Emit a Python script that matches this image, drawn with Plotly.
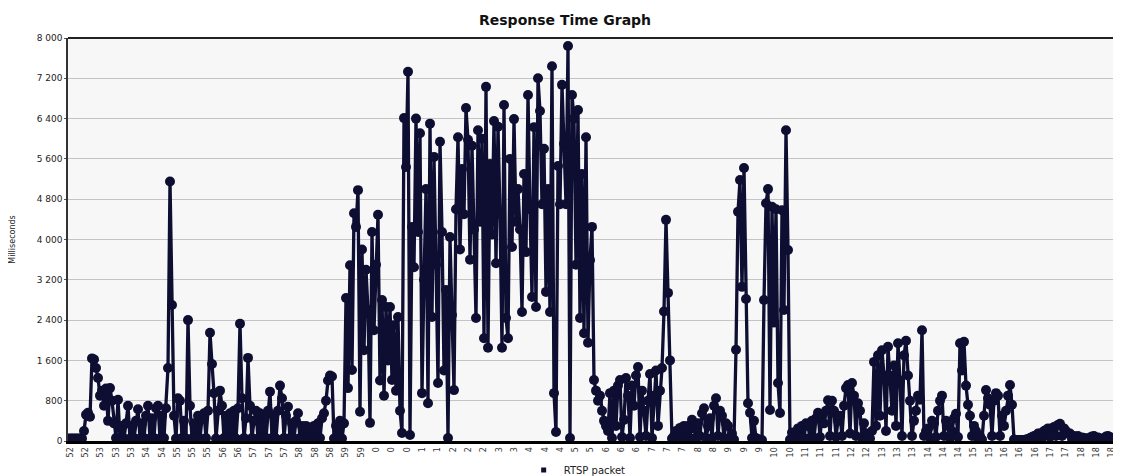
import plotly.graph_objects as go

# Response times (ms), read left to right off the reference, one sample every ~2 px
seg_52_59 = [
    50, 50, 50, 50, 50, 50, 50, 50, 200, 520,
    560, 480, 1640, 1620, 1450, 1250, 900, 1000, 700, 1040,
    400, 1050, 800, 350, 60, 820, 60, 300, 50, 350,
    700, 50, 300, 60, 400, 630, 50, 350, 60, 500,
    700, 50, 450, 60, 650, 700, 50, 500, 60, 650,
    1450, 5150, 2700, 500, 50, 850, 800, 60, 400, 50,
    2400, 700, 50, 350, 60, 500, 50, 450, 550, 60,
    600, 2150, 1530, 950, 50, 600, 1000, 700, 60, 500,
    50, 550, 60, 600, 50, 650, 2330, 850, 60, 450,
    1650, 700, 60, 400, 600, 50, 550, 60, 500, 60,
    600, 980, 60, 500, 50, 600, 1100, 850, 60, 500,
    680, 60, 350, 50, 400, 550, 60, 300, 50, 300,
    50, 250, 60, 300, 50, 350, 60, 450, 550, 800,
    1200, 1300, 1280, 50, 300, 60, 400, 50, 350, 2840,
]
seg_59_05 = [
    1050, 3490, 1410, 4520, 4250, 4980, 580, 3800, 1800, 3400,
    2600, 360, 4150, 2200, 3500, 4490, 1200, 2800, 900, 2660,
    1600, 2660, 1210, 2300, 1000, 2460, 600, 160, 6410, 5440,
    7330, 120, 4250, 3450, 6400, 4150, 6110, 950, 3200, 5000,
    750, 6300, 2460, 5640, 3500, 1150, 5940, 4150, 1400, 3000,
    60, 4050, 2500, 1010, 4600, 6030, 3800, 5400, 4500, 6610,
    5980, 3600, 5860, 4200, 2440, 6170, 4350, 6000, 2040, 7030,
    1850, 5500, 4100, 6350, 3530, 6240, 4500, 1850, 6670, 2440,
    2040, 5600, 3850, 6390, 4350, 5000, 4200, 2560, 5300, 3750,
    6870, 4600, 2860, 6230, 2660, 7200, 6550, 4700, 5800, 2960,
    5000, 2560, 7440, 950, 180, 5460, 4700, 7070, 5900, 4700,
    7840, 60, 6870, 6400, 3500, 6570, 2440, 5300, 2140, 6030,
    1950, 3590, 4250, 1210, 1000, 800, 900, 600, 400, 300,
]
seg_05_10 = [
    200, 950, 60, 1000, 300, 1100, 1210, 80, 420, 1250,
    900, 60, 1100, 700, 1300, 1470, 80, 1000, 600, 100,
    800, 1330, 60, 900, 1400, 300, 1000, 1450, 2570, 4390,
    2940, 1600, 50, 100, 200, 40, 260, 60, 300, 50,
    300, 60, 420, 250, 60, 350, 100, 550, 650, 60,
    300, 450, 60, 700, 850, 100, 600, 500, 60, 350,
    300, 60, 150, 30, 1810, 4550, 5180, 3060, 5420, 2820,
    750, 560, 60, 400, 60, 30, 30, 20, 2800, 4720,
    5000, 615, 4650, 2350, 4600, 1150, 555, 4580, 2600, 6170,
    3790, 30, 170, 30, 150, 250, 50, 300, 60, 350,
    300, 60, 400, 60, 450, 560, 80, 500, 350, 600,
    810, 100, 800, 600, 80, 400, 500, 100, 700, 1050,
    1110, 150, 1150, 900, 100, 750, 600, 60, 350, 150,
]
seg_10_18 = [
    100, 50, 200, 1570, 300, 1700, 500, 1800, 1300, 200,
    1870, 1300, 600, 1500, 300, 1940, 1200, 100, 1700, 1990,
    1300, 800, 100, 400, 600, 900, 820, 2200, 100, 200,
    250, 60, 400, 350, 80, 600, 800, 900, 100, 400,
    300, 60, 200, 450, 540, 80, 1940, 1400, 1970, 1100,
    720, 500, 100, 300, 200, 50, 100, 30, 500, 1010,
    850, 720, 100, 800, 950, 900, 100, 500, 300, 600,
    900, 1110, 720, 30, 20, 20, 20, 20, 20, 30,
    40, 60, 80, 100, 40, 150, 150, 60, 200, 220,
    250, 80, 220, 280, 100, 320, 340, 100, 250, 200,
    150, 150, 40, 100, 80, 100, 40, 70, 60, 50,
    50, 70, 90, 100, 40, 70, 50, 40, 60, 90,
    100, 80, 60, 40, 30, 30,
]

tick_labels = [
    "52", "52", "53", "53", "53", "54", "54", "55", "55", "55",
    "56", "56", "57", "57", "57", "58", "58", "58", "59", "59",
    "0", "0", "0", "1", "1", "2", "2", "2", "3", "3",
    "4", "4", "4", "5", "5", "6", "6", "6", "7", "7",
    "7", "8", "8", "9", "9", "9", "10", "10", "11", "11",
    "11", "12", "12", "13", "13", "13", "14", "14", "14", "15",
    "15", "16", "16", "16", "17", "17", "18", "18", "18",
]
series_name = "RTSP packet"

response_ms = seg_52_59 + seg_59_05 + seg_05_10 + seg_10_18
sample = list(range(len(response_ms)))

SAMPLES_PER_TICK = 7.66
FIRST_TICK = 1.0
tickvals = [FIRST_TICK + SAMPLES_PER_TICK * i for i in range(len(tick_labels))]

NAVY = "#0e0e33"
FONT = "DejaVu Sans"

fig = go.Figure()
fig.add_trace(go.Scatter(
    x=sample, y=response_ms, mode="lines+markers", name=series_name,
    line=dict(color=NAVY, width=3.3),
    marker=dict(size=10, color=NAVY),
    showlegend=False, hoverinfo="y",
))
fig.add_trace(go.Scatter(
    x=[None], y=[None], mode="markers", name=series_name,
    marker=dict(symbol="square", size=5, color=NAVY),
    showlegend=True,
))

# the page body has an 8 px margin, so the figure is sized/offset to compensate
fig.update_layout(
    width=1113, height=468,
    margin=dict(l=60, r=1, t=30, b=35, autoexpand=False),
    paper_bgcolor="white",
    plot_bgcolor="#f7f7f7",
    separators=". ",
    font=dict(family=FONT, color="#222222", size=9),
    title=dict(
        text="Response Time Graph",
        x=0.5005, xref="container", xanchor="center",
        y=0.974, yref="container", yanchor="middle",
        font=dict(family=FONT, size=14, color="#111111", weight="bold"),
    ),
    xaxis=dict(
        range=[0, 526],
        tickmode="array", tickvals=tickvals, ticktext=tick_labels,
        tickangle=-90, tickfont=dict(size=8, color="#333333"),
        showgrid=False, zeroline=False,
        showline=True, linecolor="#000000", linewidth=3,
        ticks="", automargin=False,
    ),
    yaxis=dict(
        range=[0, 8000], tickmode="linear", tick0=0, dtick=800,
        tickformat=",d", tickfont=dict(size=9, color="#222222"),
        showgrid=True, gridcolor="#c4c4c4", gridwidth=1,
        zeroline=False,
        showline=True, linecolor="#333333", linewidth=1.5,
        ticks="outside", ticklen=2, tickcolor="#555555",
        title=dict(text="Milliseconds", font=dict(size=8, color="#222222"), standoff=20),
        automargin=False,
    ),
    legend=dict(
        orientation="h", x=0.484, xanchor="center",
        y=-0.072, yanchor="middle",
        font=dict(size=10, color="#222222"),
        bgcolor="rgba(0,0,0,0)",
    ),
    shapes=[dict(
        type="line", xref="paper", yref="paper", x0=0, x1=1, y0=1, y1=1,
        line=dict(color="#222222", width=2),
    )],
)

fig.write_html("out.html")
